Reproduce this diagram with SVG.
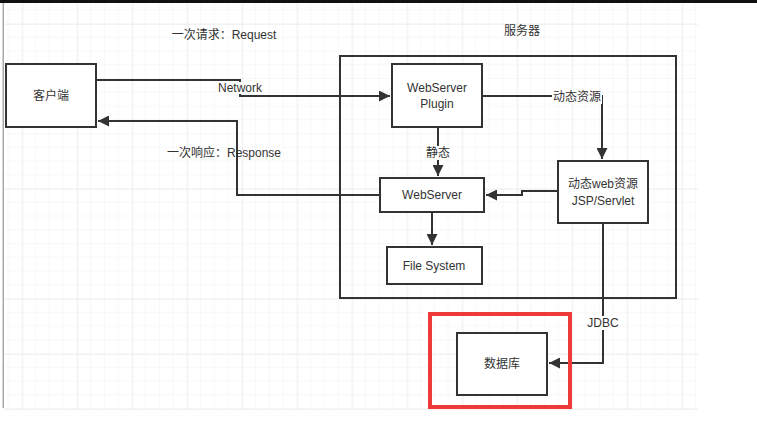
<svg xmlns="http://www.w3.org/2000/svg" width="757" height="428" viewBox="0 0 757 428">
<defs>
<style>
.box{fill:#fff;stroke:#333;stroke-width:2}
.edge{fill:none;stroke:#333;stroke-width:2}
.t{font-family:"Liberation Sans","Noto Sans CJK SC",sans-serif;font-size:12px;fill:#333;text-anchor:middle;dominant-baseline:central}
.lbl{fill:#fff}
</style>
<pattern id="minor" patternUnits="userSpaceOnUse" x="8.55" y="10.25" width="13.75" height="13.75">
<path d="M13.75 0V13.75M0 13.75H13.75" fill="none" stroke="#f1f1f1" stroke-width="1"/>
</pattern>
<pattern id="major" patternUnits="userSpaceOnUse" x="22.3" y="24" width="55" height="55">
<path d="M0 0V55M0 0H55" fill="none" stroke="#e6e6e6" stroke-width="1"/>
</pattern>
<marker id="arr" viewBox="0 0 10 10" refX="10" refY="5" markerWidth="6" markerHeight="5.5" orient="auto" markerUnits="strokeWidth">
<path d="M0 0L10 5L0 10z" fill="#333"/>
</marker>
</defs>
<rect width="757" height="428" fill="#fff"/>
<rect x="4" y="3" width="694" height="407" fill="url(#minor)"/>
<rect x="4" y="3" width="694" height="407" fill="url(#major)"/>
<rect x="0" y="0" width="757" height="3" fill="#111"/>
<rect x="2.5" y="3" width="1.5" height="405" fill="#aaa"/>

<text class="t" x="224" y="35">一次请求：Request</text>
<text class="t" x="522" y="31">服务器</text>

<g id="server">
<rect x="340" y="56" width="336" height="242" fill="none" stroke="#333" stroke-width="2"/>
</g>

<g id="connectors">
<path class="edge" d="M96 80H240V96H390" marker-end="url(#arr)"/>
<rect class="lbl" x="216" y="82" width="48" height="12"/>
<text class="t" x="240" y="88">Network</text>
<path class="edge" d="M380 195H237V121H98" marker-end="url(#arr)"/>
<text class="t" x="224" y="153">一次响应：Response</text>
<path class="edge" d="M438 127V176" marker-end="url(#arr)"/>
<rect class="lbl" x="426" y="146" width="24" height="14"/>
<text class="t" x="438" y="153">静态</text>
<path class="edge" d="M482 96H602V159" marker-end="url(#arr)"/>
<rect class="lbl" x="552" y="90" width="50" height="14"/>
<text class="t" x="577" y="97">动态资源</text>
<path class="edge" d="M558 191H522V195H486" marker-end="url(#arr)"/>
<path class="edge" d="M432 212V245" marker-end="url(#arr)"/>
<path class="edge" d="M603 223V363H549" marker-end="url(#arr)"/>
<rect class="lbl" x="588" y="316" width="30" height="14"/>
<text class="t" x="603" y="323">JDBC</text>
</g>

<g id="client">
<rect class="box" x="6" y="64" width="90" height="63"/>
<text class="t" x="51" y="96">客户端</text>
</g>
<g id="plugin">
<rect class="box" x="392" y="64" width="90" height="63"/>
<text class="t" x="437" y="88">WebServer</text>
<text class="t" x="437" y="104">Plugin</text>
</g>
<g id="webserver">
<rect class="box" x="380" y="178" width="104" height="34"/>
<text class="t" x="432" y="195">WebServer</text>
</g>
<g id="servlet">
<rect class="box" x="558" y="161" width="90" height="62"/>
<text class="t" x="603" y="184">动态web资源</text>
<text class="t" x="603" y="201">JSP/Servlet</text>
</g>
<g id="filesystem">
<rect class="box" x="387" y="247" width="95" height="37"/>
<text class="t" x="434" y="266">File System</text>
</g>
<g id="database">
<rect x="430" y="314" width="140" height="93" fill="none" stroke="#f03a3a" stroke-width="4"/>
<rect class="box" x="457" y="333" width="90" height="62"/>
<text class="t" x="502" y="364">数据库</text>
</g>
</svg>
